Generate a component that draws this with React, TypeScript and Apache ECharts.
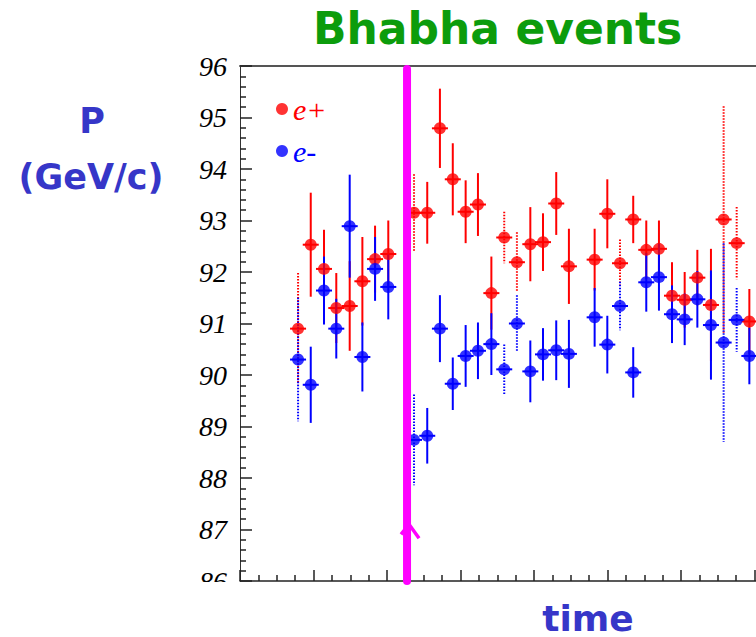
import React, { useEffect, useRef } from "react";
import * as echarts from "echarts";

// time positions of the bins (in minor-tick units of the time axis)
const times = [3.16, 3.85, 4.57, 5.24, 5.97, 6.66, 7.35, 8.07, 9.47, 10.19, 10.88, 11.58, 12.28, 12.95, 13.68, 14.38, 15.07, 15.8, 16.49, 17.21, 17.9, 19.3, 19.99, 20.68, 21.4, 22.11, 22.8, 23.51, 24.2, 24.89, 25.63, 26.32, 27.03, 27.72];
// e+ momentum (GeV/c) and its error
const ePlus = [90.9, 92.53, 92.06, 91.3, 91.34, 91.82, 92.25, 92.35, 93.15, 93.15, 94.79, 93.8, 93.17, 93.31, 91.59, 92.67, 92.19, 92.54, 92.58, 93.33, 92.11, 92.24, 93.13, 92.17, 93.02, 92.43, 92.45, 91.54, 91.46, 91.89, 91.36, 93.02, 92.56, 91.04];
const ePlusErr = [1.08, 1.01, 0.76, 0.68, 0.87, 0.86, 0.65, 0.65, 0.75, 0.6, 0.77, 0.7, 0.61, 0.61, 0.71, 0.5, 0.58, 0.72, 0.56, 0.61, 0.73, 0.6, 0.67, 0.46, 0.46, 0.57, 0.55, 0.65, 0.54, 0.54, 1.09, 2.2, 0.7, 0.63];
// e- momentum (GeV/c) and its error
const eMinus = [90.3, 89.81, 91.64, 90.9, 92.89, 90.35, 92.06, 91.71, 88.74, 88.82, 90.9, 89.83, 90.37, 90.47, 90.6, 90.11, 91.0, 90.07, 90.4, 90.48, 90.41, 91.12, 90.59, 91.34, 90.05, 91.8, 91.9, 91.18, 91.08, 91.47, 90.97, 90.63, 91.07, 90.37];
const eMinusErr = [1.2, 0.74, 0.66, 0.58, 1.0, 0.67, 0.62, 0.63, 0.88, 0.54, 0.65, 0.51, 0.6, 0.55, 0.6, 0.48, 0.55, 0.6, 0.51, 0.58, 0.66, 0.57, 0.56, 0.47, 0.49, 0.57, 0.65, 0.56, 0.5, 0.55, 1.06, 1.93, 0.62, 0.55];
// bins whose error bars are drawn dotted
const dottedBins = [0, 8, 15, 16, 23, 31, 32];
// time of the vertical magenta marker
const markerTimes = [9.09];
const yMin = 86;
const yMax = 96;
const arrowValue = 87.1;

const RED = "#ff0000";
const BLUE = "#0000ff";
const MAGENTA = "#ff00ff";

function errData(vals: number[], errs: number[]) {
  return times.map((t, i) => [t, vals[i], errs[i], dottedBins.includes(i) ? 1 : 0]);
}

function errRender(color: string) {
  return (params: any, api: any) => {
    const x = api.value(0);
    const v = api.value(1);
    const e = api.value(2);
    const dotted = api.value(3) === 1;
    const top = api.coord([x, v + e]);
    const bot = api.coord([x, v - e]);
    const c = api.coord([x, v]);
    const style = { stroke: color, lineWidth: 2, lineDash: dotted ? [1.5, 1.5] : null };
    return {
      type: "group",
      children: [
        { type: "line", shape: { x1: top[0], y1: top[1], x2: bot[0], y2: bot[1] }, style },
        { type: "line", shape: { x1: c[0] - 8, y1: c[1], x2: c[0] + 8, y2: c[1] }, style: { stroke: color, lineWidth: 2 } },
      ],
    };
  };
}

export default function App() {
  const ref = useRef<HTMLDivElement>(null);
  useEffect(() => {
    if (!ref.current) return;
    const chart = echarts.init(ref.current, null, { renderer: "svg" });
    const option: any = {
      animation: false,
      backgroundColor: "#ffffff",
      grid: { left: 240, top: 66, width: 588, height: 515 },
      xAxis: [
        {
          type: "value",
          min: 0,
          max: 32,
          interval: 4,
          axisLine: { show: true, lineStyle: { color: "#222", width: 1.5 } },
          axisTick: { show: true, inside: true, length: 11, lineStyle: { color: "#222", width: 1.5 } },
          minorTick: { show: true, splitNumber: 4, length: 6, lineStyle: { color: "#222", width: 1.5 } },
          axisLabel: { show: false },
          splitLine: { show: false },
        },
        {
          type: "value",
          position: "top",
          min: 0,
          max: 32,
          axisLine: { show: true, lineStyle: { color: "#555", width: 2 } },
          axisTick: { show: false },
          axisLabel: { show: false },
          splitLine: { show: false },
        },
      ],
      yAxis: {
        type: "value",
        min: yMin,
        max: yMax,
        interval: 1,
        axisLine: { show: true, lineStyle: { color: "#333", width: 1 } },
        axisTick: { show: true, inside: true, length: 12, lineStyle: { color: "#222", width: 1.5 } },
        minorTick: { show: true, splitNumber: 5, length: 6, lineStyle: { color: "#222", width: 1.5 } },
        axisLabel: {
          color: "#000",
          fontFamily: "Liberation Serif",
          fontStyle: "italic",
          fontSize: 28,
          margin: 13,
        },
        splitLine: { show: false },
      },
      legend: {
        orient: "vertical",
        left: 271,
        top: 89,
        itemWidth: 12,
        itemHeight: 12,
        itemGap: 12,
        icon: "circle",
        textStyle: { fontFamily: "Liberation Serif", fontStyle: "italic", fontSize: 30 },
        data: [
          { name: "e+", textStyle: { color: RED } },
          { name: "e-", textStyle: { color: BLUE } },
        ],
      },
      graphic: [
        {
          type: "text",
          left: 313,
          top: 6,
          style: { text: "Bhabha events", fill: "#0c9c0c", font: "bold 44px 'DejaVu Sans'" },
        },
        {
          type: "text",
          x: 92,
          y: 121,
          style: { text: "P", fill: "#3636c8", font: "bold 35px 'DejaVu Sans'", textAlign: "center", textVerticalAlign: "middle" },
        },
        {
          type: "text",
          x: 91,
          y: 177,
          style: { text: "(GeV/c)", fill: "#3636c8", font: "bold 35px 'DejaVu Sans'", textAlign: "center", textVerticalAlign: "middle" },
        },
        {
          type: "text",
          x: 588,
          y: 618,
          style: { text: "time", fill: "#3636c8", font: "bold 36px 'DejaVu Sans'", textAlign: "center", textVerticalAlign: "middle" },
        },
        {
          type: "rect",
          left: 150,
          top: 582,
          shape: { width: 88, height: 30 },
          style: { fill: "#ffffff" },
          z: 100,
        },
      ],
      series: [
        {
          type: "custom",
          name: "e+ err",
          renderItem: errRender(RED),
          data: errData(ePlus, ePlusErr),
          encode: { x: 0, y: 1 },
          z: 2,
        },
        {
          type: "custom",
          name: "e- err",
          renderItem: errRender(BLUE),
          data: errData(eMinus, eMinusErr),
          encode: { x: 0, y: 1 },
          z: 2,
        },
        {
          type: "scatter",
          name: "e+",
          data: times.map((t, i) => [t, ePlus[i]]),
          symbol: "circle",
          symbolSize: 12,
          itemStyle: { color: RED },
          z: 4,
        },
        {
          type: "scatter",
          name: "e-",
          data: times.map((t, i) => [t, eMinus[i]]),
          symbol: "circle",
          symbolSize: 12,
          itemStyle: { color: BLUE },
          z: 4,
        },
        {
          type: "custom",
          name: "marker",
          data: markerTimes.map((t) => [t]),
          encode: { x: 0 },
          z: 6,
          renderItem: (params: any, api: any) => {
            const x = api.value(0);
            const top = api.coord([x, yMax - 0.06]);
            const bot = api.coord([x, yMin]);
            const a = api.coord([x, arrowValue]);
            return {
              type: "group",
              children: [
                {
                  type: "line",
                  shape: { x1: top[0], y1: top[1], x2: bot[0], y2: bot[1] },
                  style: { stroke: MAGENTA, lineWidth: 8, lineCap: "round" },
                },
                {
                  type: "polyline",
                  shape: { points: [[a[0] - 6, a[1] + 10], [a[0] + 2, a[1]], [a[0] + 12, a[1] + 14]] },
                  style: { stroke: MAGENTA, lineWidth: 3.5, fill: null },
                },
              ],
            };
          },
        },
      ],
    };
    chart.setOption(option);
    return () => chart.dispose();
  }, []);
  return (
    <div style={{ position: "absolute", left: 0, top: 0, width: 756, height: 637, overflow: "hidden", background: "#fff" }}>
      <div ref={ref} style={{ width: 860, height: 637 }} />
    </div>
  );
}
